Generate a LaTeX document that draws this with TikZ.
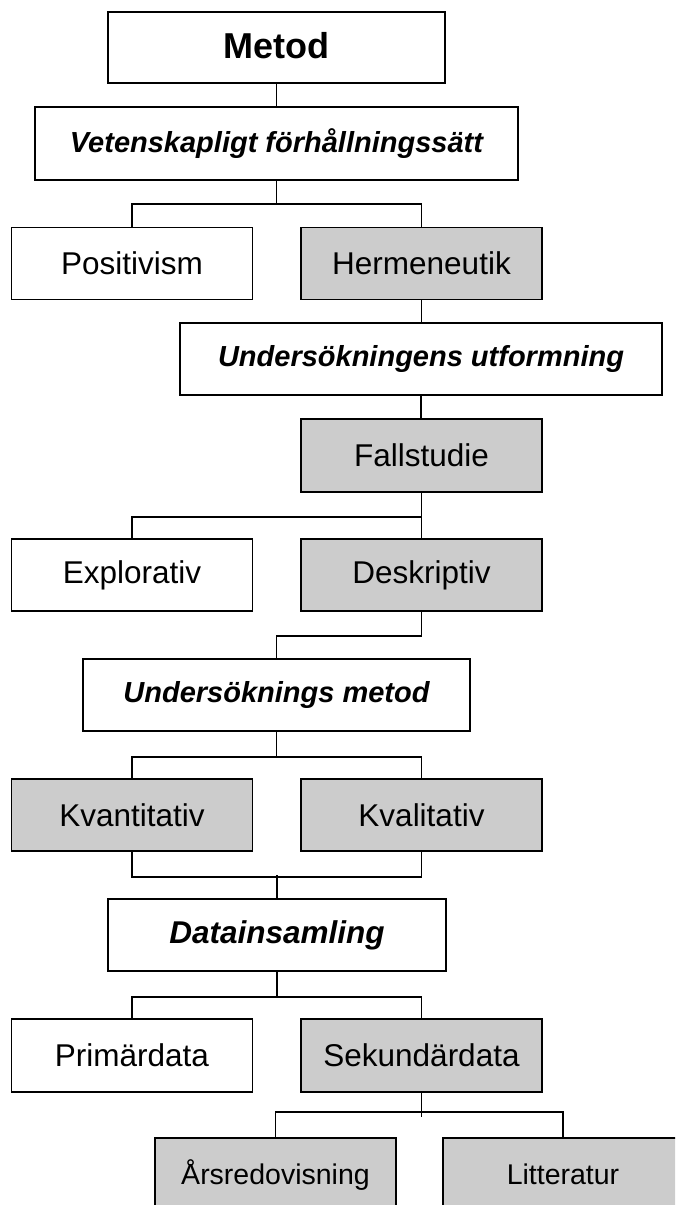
\documentclass[tikz,border=0pt]{standalone}
\usepackage{fontspec}
\setmainfont{Liberation Sans}
\definecolor{boxgray}{RGB}{204,204,204}
\begin{document}
\begin{tikzpicture}[x=1pt,y=-1pt,
  box/.style={draw=black,line width=1.8pt,rectangle,inner sep=0pt,
    minimum width=241pt,minimum height=72pt,fill=white,
    font=\fontsize{31.5}{36}\selectfont},
  shaded/.style={box,fill=boxgray},
  heading/.style={box,font=\fontsize{29}{34}\selectfont\bfseries\itshape},
  small/.style={font=\fontsize{28.5}{33}\selectfont,text height=26pt,text depth=6pt},
  link/.style={draw=black,line width=1.6pt}]
\useasboundingbox (0,0) rectangle (675,1205);
\clip (0,0) rectangle (675,1205);

% method levels
\node[box,minimum width=337pt,minimum height=71pt,
  font=\fontsize{36}{40}\selectfont\bfseries] (metod) at (276.5,47.5) {\raisebox{4pt}{Metod}};
\node[heading,minimum width=483pt,minimum height=73pt] (vet) at (276.5,143.5) {Vetenskapligt förhållningssätt};
\node[box] (pos) at (132,263.5) {Positivism};
\node[shaded] (herm) at (421.5,263.5) {Hermeneutik};
\node[heading,minimum width=482pt] (utf) at (421,359) {Undersökningens utformning};
\node[shaded,minimum height=73pt] (fall) at (421.5,455.5) {Fallstudie};
\node[box] (expl) at (132,575) {Explorativ};
\node[shaded] (desk) at (421.5,575) {Deskriptiv};
\node[heading,minimum width=387pt] (umet) at (276.5,695) {Undersöknings metod};
\node[shaded] (kvant) at (132,815) {Kvantitativ};
\node[shaded] (kval) at (421.5,815) {Kvalitativ};
\node[heading,minimum width=338pt,font=\fontsize{31.5}{36}\selectfont\bfseries\itshape] (data) at (277,935) {Datainsamling};
\node[box,minimum height=73pt] (prim) at (132,1055.5) {Primärdata};
\node[shaded,minimum height=73pt] (sek) at (421.5,1055.5) {Sekundärdata};
\node[shaded,small] (ars) at (275.5,1174) {Årsredovisning};
\node[shaded,small,minimum width=240pt] (litt) at (563,1174) {Litteratur};

% connectors
\draw[link] (metod.south) -- (metod.south |- vet.north);
\draw[link] (vet.south) -- ++(0,23) -| (pos.north);
\draw[link] (vet.south) -- ++(0,23) -| (herm.north);
\draw[link] (herm.south) -- (herm.south |- utf.north);
\draw[link] (utf.south) -- (utf.south |- fall.north);
\draw[link] (fall.south) -- (desk.north);
\draw[link] (fall.south) -- ++(0,24) -| (expl.north);
\draw[link] (desk.south) -- ++(0,24) -| (umet.north);
\draw[link] (umet.south) -- ++(0,25) -| (kvant.north);
\draw[link] (umet.south) -- ++(0,25) -| (kval.north);
\draw[link] (kvant.south) -- ++(0,25) -| (kval.south);
\draw[link] (data.north) -- ++(0,-23);
\draw[link] (data.south) -- ++(0,25) -| (prim.north);
\draw[link] (data.south) -- ++(0,25) -| (sek.north);
\draw[link] (sek.south) -- ++(0,24);
\draw[link] (ars.north) -- ++(0,-25) -| (litt.north);
\end{tikzpicture}
\end{document}
